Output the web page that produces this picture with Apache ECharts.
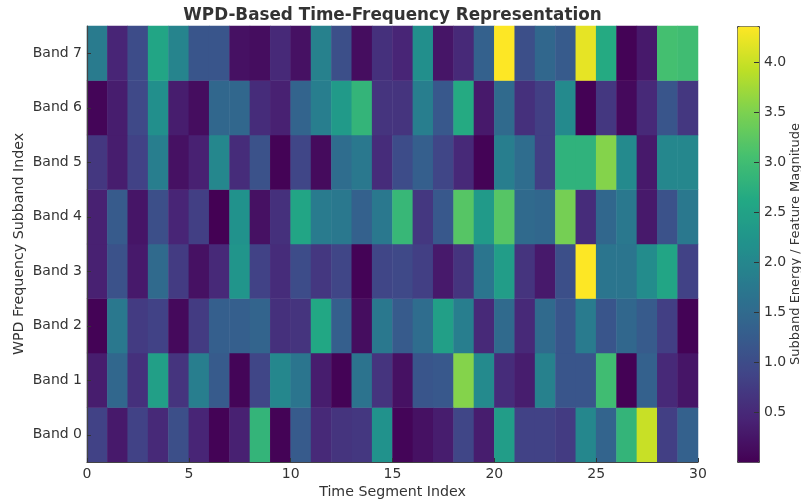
<!DOCTYPE html>
<html>
<head>
<meta charset="utf-8">
<style>
  html, body { margin: 0; padding: 0; background: #fff; }
  #chart { width: 801px; height: 503px; }
</style>
</head>
<body>
<div id="chart"></div>
<script src="https://cdn.jsdelivr.net/npm/echarts@6/dist/echarts.min.js"></script>
<script>
const bandLabels = ['Band 0', 'Band 1', 'Band 2', 'Band 3', 'Band 4', 'Band 5', 'Band 6', 'Band 7']
const segments = Array.from({ length: 30 }, (_, i) => String(i))

const band0 = [0.85, 0.3, 0.85, 0.5, 1.05, 0.45, 0.03, 0.4, 2.85, 0.03, 1.25, 0.5, 0.65, 0.7, 2.2, 0.05, 0.2, 0.35, 0.9, 0.35, 2.4, 0.85, 0.85, 0.75, 2.0, 1.4, 2.85, 4.0, 0.8, 1.35]
const band1 = [0.35, 1.45, 0.6, 2.45, 0.65, 1.85, 1.25, 0.05, 0.9, 2.0, 1.7, 0.35, 0.03, 1.65, 0.65, 0.2, 1.15, 1.2, 3.55, 2.05, 0.55, 0.35, 1.9, 1.15, 1.15, 3.0, 0.01, 1.35, 0.5, 0.25]
const band2 = [0.02, 1.75, 0.75, 0.85, 0.1, 0.75, 1.3, 1.3, 1.4, 0.6, 0.65, 2.6, 1.3, 0.15, 1.75, 1.25, 1.55, 2.45, 1.85, 0.5, 1.5, 0.5, 1.5, 1.15, 1.8, 1.15, 1.45, 1.25, 0.8, 0.02]
const band3 = [0.4, 1.1, 0.3, 1.5, 0.75, 0.2, 0.5, 2.25, 0.85, 0.55, 1.0, 0.7, 0.9, 0.02, 0.9, 0.95, 0.8, 0.3, 0.65, 1.7, 2.4, 0.65, 0.3, 1.05, 4.36, 1.7, 1.7, 2.1, 2.55, 0.85]
const band4 = [0.4, 1.25, 0.25, 1.05, 0.45, 0.8, 0.0, 2.2, 0.2, 0.6, 2.55, 1.8, 1.75, 1.35, 1.75, 2.9, 0.7, 1.2, 3.2, 2.35, 3.2, 1.5, 1.45, 3.45, 0.55, 1.45, 1.75, 0.3, 1.1, 1.75]
const band5 = [0.7, 0.35, 0.85, 1.85, 0.2, 0.4, 2.0, 0.55, 1.1, 0.02, 0.9, 0.12, 1.55, 1.75, 0.55, 1.0, 1.3, 0.9, 0.5, 0.02, 1.85, 1.55, 0.8, 2.8, 2.8, 3.55, 2.05, 0.3, 2.0, 2.0]
const band6 = [0.05, 0.35, 0.95, 2.15, 0.35, 0.15, 1.45, 1.45, 0.55, 0.4, 1.4, 1.85, 2.35, 2.85, 0.65, 0.65, 1.85, 1.2, 2.65, 0.3, 1.5, 0.6, 0.8, 2.05, 0.01, 0.7, 0.1, 0.5, 1.15, 0.7]
const band7 = [1.8, 0.45, 1.0, 2.55, 1.95, 1.15, 1.15, 0.2, 0.15, 0.5, 0.2, 1.9, 1.05, 0.15, 0.6, 0.45, 2.15, 0.25, 0.5, 1.35, 4.36, 1.05, 1.45, 1.25, 4.2, 2.65, 0.02, 0.3, 3.05, 3.0]
const bands = [band0, band1, band2, band3, band4, band5, band6, band7]

const viridis = ['#440154', '#482475', '#414487', '#355f8d', '#2a788e', '#21918c', '#22a884', '#44bf70', '#7ad151', '#bddf26', '#fde725']
const minVal = 0
const maxVal = 4.36

const cells = []
bands.forEach((row, y) => {
  row.forEach((v, x) => cells.push([x, y, v]))
})

const fontFamily = '"DejaVu Sans", sans-serif'
const textColor = '#333'
const tickStyle = { show: true, inside: true, length: 4, lineStyle: { color: '#333', width: 1 } }
const lineStyle = { show: true, onZero: false, lineStyle: { color: '#444', width: 1.2 } }

const chart = echarts.init(document.getElementById('chart'), null, { renderer: 'canvas' })
chart.setOption({
  animation: false,
  backgroundColor: '#fff',
  textStyle: { fontFamily },
  title: {
    text: 'WPD-Based Time-Frequency Representation',
    left: 387.5,
    top: 2,
    textAlign: 'center',
    textStyle: { fontFamily, fontSize: 16.8, fontWeight: 'bold', color: textColor }
  },
  grid: [
    { left: 87, top: 26, width: 611, height: 436, outerBoundsMode: 'none' },
    { left: 737, top: 26, width: 22, height: 436, outerBoundsMode: 'none' }
  ],
  xAxis: [
    // 热力图用的类目轴，不显示
    { type: 'category', gridIndex: 0, data: segments, show: false },
    {
      type: 'value',
      gridIndex: 0,
      position: 'bottom',
      z: 5,
      min: 0,
      max: 30,
      interval: 5,
      splitLine: { show: false },
      axisLine: lineStyle,
      axisTick: tickStyle,
      axisLabel: { fontSize: 14, color: textColor, margin: 5 },
      name: 'Time Segment Index',
      nameLocation: 'middle',
      nameGap: 23,
      nameMoveOverlap: false,
      nameTextStyle: { fontSize: 14.2, color: textColor }
    },
    { type: 'value', gridIndex: 1, show: false, min: 0, max: 1 }
  ],
  yAxis: [
    {
      type: 'category',
      gridIndex: 0,
      z: 5,
      data: bandLabels,
      axisLine: lineStyle,
      axisTick: { ...tickStyle, alignWithLabel: true },
      axisLabel: { fontSize: 14, color: textColor, margin: 5, interval: 0 },
      splitLine: { show: false },
      name: 'WPD Frequency Subband Index',
      nameLocation: 'middle',
      nameGap: 61,
      nameMoveOverlap: false,
      nameTextStyle: { fontSize: 14.2, color: textColor }
    },
    {
      type: 'value',
      gridIndex: 1,
      position: 'right',
      z: 10,
      min: minVal,
      max: maxVal,
      interval: 0.5,
      splitLine: { show: false },
      axisLine: { show: false, onZero: false },
      axisTick: { ...tickStyle, length: 5 },
      axisLabel: {
        fontSize: 14,
        color: textColor,
        margin: 5,
        showMinLabel: false,
        showMaxLabel: false,
        formatter: v => v.toFixed(1)
      },
      name: 'Subband Energy / Feature Magnitude',
      nameLocation: 'middle',
      nameRotate: 90,
      nameGap: 30,
      nameMoveOverlap: false,
      nameTextStyle: { fontSize: 13, color: textColor }
    }
  ],
  visualMap: {
    type: 'continuous',
    seriesIndex: 0,
    min: minVal,
    max: maxVal,
    calculable: false,
    realtime: false,
    hoverLink: false,
    left: 737,
    top: 26,
    itemWidth: 22,
    itemHeight: 436,
    padding: 0,
    borderColor: '#444',
    borderWidth: 1,
    text: ['', ''],
    textGap: 0,
    inRange: { color: viridis }
  },
  series: [
    {
      type: 'heatmap',
      xAxisIndex: 0,
      yAxisIndex: 0,
      data: cells,
      itemStyle: { borderWidth: 0 },
      emphasis: { disabled: true }
    }
  ]
})
</script>
</body>
</html>
